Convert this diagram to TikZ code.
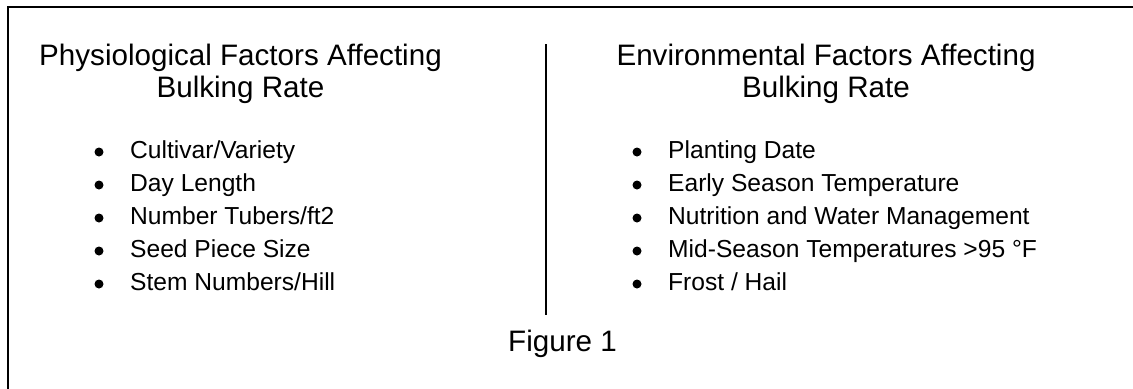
\documentclass[tikz,border=0pt]{standalone}
\usepackage{fontspec}
\setmainfont{Liberation Sans}
\usepackage{tikz}
\usetikzlibrary{positioning}

\begin{document}
\begin{tikzpicture}[x=1bp,y=-1bp,
			heading/.style={align=center,inner sep=0pt,anchor=base,
				font=\fontsize{29.6bp}{32bp}\selectfont},
			factor/.style={inner sep=0pt,anchor=base west,
				font=\fontsize{24.6bp}{33bp}\selectfont},
			dot/.style={circle,fill,inner sep=0pt,minimum size=9bp},
			frame/.style={line width=2bp},
			divider/.style={line width=1.4bp}]
	\useasboundingbox (0,0) rectangle (1133,388);

	% outer frame (cut off at right and bottom)
	\draw[frame] (7.5,390) -- (7.5,6.5) -- (1135,6.5);

	\node[heading] (phys-title) at (240.5,97) {Physiological Factors Affecting\\Bulking Rate};
	\node[heading] (env-title) at (826,97) {Environmental Factors Affecting\\Bulking Rate};

	% left list
	\node[factor] (phys1) at (130,158) {Cultivar/Variety};
	\node[factor] (phys2) at (130,191) {Day Length};
	\node[factor] (phys3) at (130,224) {Number Tubers/ft2};
	\node[factor] (phys4) at (130,257) {Seed Piece Size};
	\node[factor] (phys5) at (130,290) {Stem Numbers/Hill};

	% right list
	\node[factor] (env1) at (668,158) {Planting Date};
	\node[factor] (env2) at (668,191) {Early Season Temperature};
	\node[factor] (env3) at (668,224) {Nutrition and Water Management};
	\node[factor] (env4) at (668,257) {Mid-Season Temperatures >95 °F};
	\node[factor] (env5) at (668,290) {Frost / Hail};

	% bullets
	\foreach \n in {phys1,phys2,phys3,phys4,phys5}
		\node[dot] (\n-dot) at ([xshift=-31bp,yshift=6bp]\n.base west) {};
	\foreach \n in {env1,env2,env3,env4,env5}
		\node[dot] (\n-dot) at ([xshift=-31bp,yshift=6bp]\n.base west) {};

	\coordinate (div-top) at (546,44);
	\coordinate (div-bot) at (546,315);
	\draw[divider] (div-top) -- (div-bot);

	\node[heading] (fig) at (562.5,351) {Figure 1};
\end{tikzpicture}
\end{document}
